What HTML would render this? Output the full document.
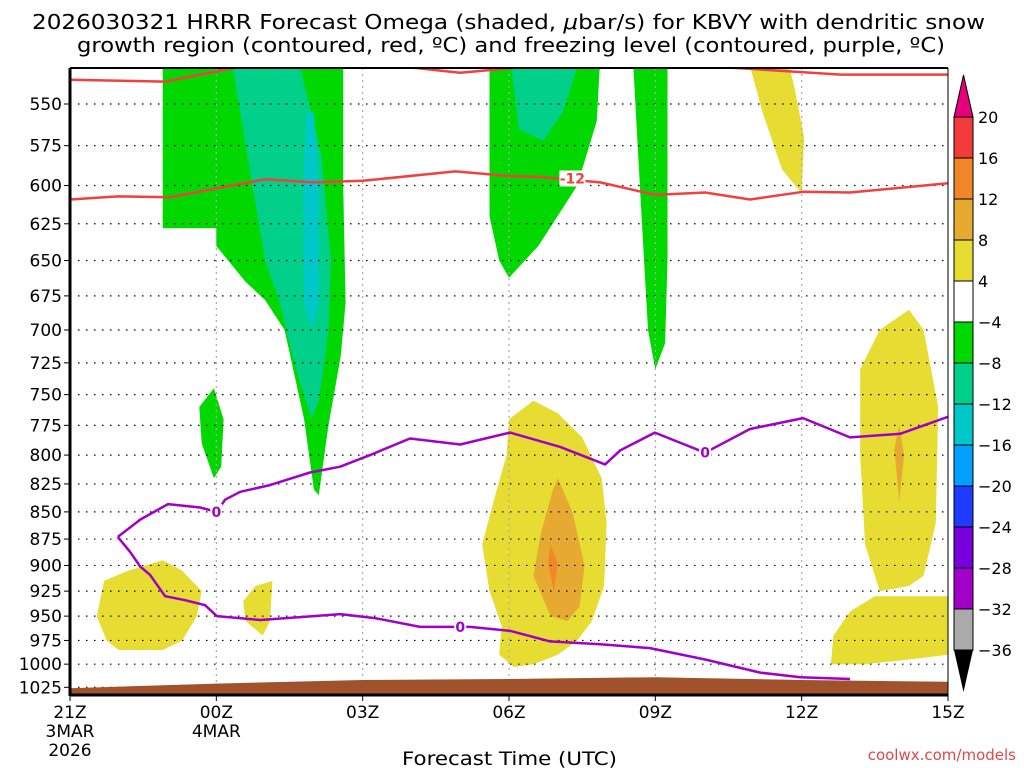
<!DOCTYPE html>
<html><head><meta charset="utf-8"><style>
body{margin:0;background:#fff;}
svg{display:block;font-family:"DejaVu Sans","Liberation Sans",sans-serif;}
</style></head><body>
<svg id="c" width="1024" height="768" viewBox="0 0 1024 768" xmlns="http://www.w3.org/2000/svg">
<text x="32" y="29" textLength="953" lengthAdjust="spacingAndGlyphs" font-size="20">2026030321 HRRR Forecast Omega (shaded, <tspan font-style="italic">μ</tspan>bar/s) for KBVY with dendritic snow</text>
<text x="77" y="52" textLength="868" lengthAdjust="spacingAndGlyphs" font-size="20">growth region (contoured, red, ºC) and freezing level (contoured, purple, ºC)</text>
<g id="plot"></g>
<text x="402" y="765" textLength="215" lengthAdjust="spacingAndGlyphs" font-size="19">Forecast Time (UTC)</text>
<text x="1016" y="760" text-anchor="end" font-size="15" fill="#e04848">coolwx.com/models</text>
</svg>
<script>
const pTicks=[550,575,600,625,650,675,700,725,750,775,800,825,850,875,900,925,950,975,1000,1025];
const xTickHours=[0,3,6,9,12,15,18];
const xTickLabels=[["21Z","3MAR","2026"],["00Z","4MAR"],["03Z"],["06Z"],["09Z"],["12Z"],["15Z"]];
const cbLevels=[20,16,12,8,4,-4,-8,-12,-16,-20,-24,-28,-32,-36];
const cbColors=["#f23c3c","#f0882a","#e6aa32","#e6dc32","#ffffff","#00d800","#00d08a","#00c8c8","#00a0ff","#1e3cff","#7800dc","#a000c8","#aaaaaa"];
const green1=[[1.9,529],[1.9,628],[3,628],[3,640],[3.6,665],[4,678],[4.4,700],[4.8,770],[5.0,830],[5.1,835],[5.3,775],[5.55,720],[5.65,680],[5.6,600],[5.6,529]];
const teal1=[[3.34,529],[3.6,575],[4.0,650],[4.3,680],[4.6,725],[4.95,770],[5.1,755],[5.3,700],[5.35,650],[5.15,580],[4.72,529]];
const cyan1=[[4.85,555],[4.78,600],[4.8,680],[4.95,700],[5.1,680],[5.1,600],[5.0,555]];
const green2=[[2.65,760],[2.95,745],[3.15,770],[3.1,810],[2.95,820],[2.7,790]];
const green3=[[8.6,529],[8.6,620],[8.8,650],[9.0,662],[9.6,640],[10.4,600],[10.8,560],[10.86,529]];
const teal3=[[9.05,529],[9.2,565],[9.7,572],[10.1,555],[10.4,529]];
const green4=[[11.55,529],[11.7,610],[11.85,700],[12.0,730],[12.2,710],[12.25,650],[12.25,529]];
const yellow1=[[13.95,529],[14.2,555],[14.6,590],[15.0,605],[15.05,570],[14.85,540],[14.75,529]];
const yellow2=[[0.55,950],[0.7,915],[1.2,905],[1.9,895],[2.3,905],[2.7,925],[2.6,950],[2.3,975],[1.9,985],[1.0,985],[0.75,975]];
const yellow3=[[3.55,935],[3.8,920],[4.15,915],[4.1,955],[3.95,970],[3.6,955]];
const yellow4=[[9.0,770],[9.5,755],[10.0,765],[10.5,785],[10.9,820],[11.0,860],[10.95,920],[10.7,955],[10.4,975],[10.0,990],[9.5,1000],[9.1,1003],[8.8,990],[8.85,960],[8.6,925],[8.45,880],[8.75,830],[8.95,800]];
const orange4=[[10.0,820],[10.3,850],[10.55,900],[10.45,940],[10.2,955],[9.85,950],[9.5,910],[9.65,870],[9.9,830]];
const red4=[[9.85,880],[10.0,898],[9.92,925],[9.8,898]];
const yellow5=[[16.2,730],[16.6,700],[17.2,685],[17.5,700],[17.8,760],[17.75,860],[17.5,910],[17.2,920],[16.6,925],[16.3,880],[16.2,800]];
const orange5=[[16.9,795],[17.0,775],[17.1,800],[17.0,840]];
const yellow6=[[15.6,1000],[15.65,970],[16.0,945],[16.5,930],[17.5,930],[18,930],[18,990],[17.2,995],[16.3,1000]];
const dgzTop=[[0,536],[1.95,537],[3.4,529],[7,529],[8,532],[9.2,529],[13.5,529],[15.8,533],[18,533]];
const dgzBottom=[[0,609],[0.98,607],[2.05,607.5],[4.0,596],[4.98,598],[6.0,597],[7.9,591],[9.02,594],[9.6,594.5],[10.87,598],[12.0,606],[13.02,604.5],[13.94,609],[15.03,604],[15.99,604.5],[18,598.6]];
const frzUpper=[[0.98,873],[1.44,857],[2.01,843],[2.67,846],[3.01,850],[3.18,839],[3.49,832],[4.1,826],[4.92,815],[5.54,810],[6.15,800],[6.97,786],[8.0,791],[9.02,781],[10.05,793],[10.97,808],[11.28,796],[11.99,781],[13.02,798],[13.94,778],[15.03,769],[15.99,785],[17.02,782],[18,768]];
const frzLower=[[0.98,873],[1.23,887],[1.44,901],[1.64,909],[1.95,930],[2.36,934],[2.77,939],[3.01,950],[3.9,954],[4.72,951],[5.54,948],[6.25,952],[7.18,961],[8.2,961],[9.02,965],[9.84,976],[10.87,979],[11.89,983],[13.02,995],[14.15,1009],[14.97,1014],[15.99,1016]];
const ground=[[0,1026],[3,1021],[6,1017],[9,1016],[12,1014],[15,1017],[18,1019]];

const X0=70,X1=948,Y0=68,Y1=695,HMAX=18;
const yRef=104,pRef=550,K=937;
function xs(h){return X0+h*(X1-X0)/HMAX;}
function ys(p){return yRef+K*Math.log(p/pRef);}
const NS="http://www.w3.org/2000/svg";
const g=document.getElementById('plot');
function mk(tag,attrs,parent){const e=document.createElementNS(NS,tag);for(const k in attrs)e.setAttribute(k,attrs[k]);(parent||g).appendChild(e);return e;}
function pts(a){return a.map(d=>xs(d[0]).toFixed(1)+","+ys(d[1]).toFixed(1)).join(" ");}
const defs=mk('defs',{});
const cp=mk('clipPath',{id:'clip'},defs);
mk('rect',{x:X0,y:Y0,width:X1-X0,height:Y1-Y0},cp);
const pg=mk('g',{'clip-path':'url(#clip)'});


const regions=[["green-region-1","#00d800",green1],["teal-region-1","#00d08a",teal1],["cyan-region-1","#00c8c8",cyan1],["green-region-2","#00d800",green2],["green-region-3","#00d800",green3],["teal-region-3","#00d08a",teal3],["green-region-4","#00d800",green4],["yellow-region-1","#e6dc32",yellow1],["yellow-region-2","#e6dc32",yellow2],["yellow-region-3","#e6dc32",yellow3],["yellow-region-4","#e6dc32",yellow4],["orange-region-4","#e6aa32",orange4],["red-orange-region-4","#f0882a",red4],["yellow-region-5","#e6dc32",yellow5],["orange-region-5","#e6aa32",orange5],["yellow-region-6","#e6dc32",yellow6]];
regions.forEach(r=>{
  const e=mk('polygon',{points:pts(r[2]),fill:r[1]},pg);
  
  
});
pTicks.forEach(p=>{
  const e=mk('line',{x1:X0,x2:X1,y1:ys(p),y2:ys(p),stroke:'#000','stroke-width':1.2,'stroke-dasharray':'1.5,6.5'},pg);
  
  
});
xTickHours.forEach(h=>{
  const e=mk('line',{x1:xs(h),x2:xs(h),y1:Y0,y2:Y1,stroke:'#aaa','stroke-width':1.2,'stroke-dasharray':'2,4'},pg);
  
  
});
const gpoly=ground.concat([[18,1040],[0,1040]]);
const ge=mk('polygon',{points:pts(gpoly),fill:'#a0522d'},pg);


function line(a,col,name){const e=mk('polyline',{points:pts(a),fill:'none',stroke:col,'stroke-width':2.5,'stroke-linejoin':'round'},pg);

}
line(dgzTop,'#f04040','dgz-top-contour');
line(dgzBottom,'#f04040','dgz-bottom-contour');
line(frzUpper,'#a000c8','freezing-level-upper');
line(frzLower,'#a000c8','freezing-level-lower');
function clabel(h,p,t,col,name,w){
  mk('rect',{x:xs(h)-w/2,y:ys(p)-8,width:w,height:16,fill:'#fff'},pg);
  const e=mk('text',{x:xs(h),y:ys(p)+5,'text-anchor':'middle','font-size':14,'font-weight':'bold',fill:col},pg);
  e.textContent=t;
  
  
}
clabel(10.3,595.5,'-12','#f04040','dgz-contour-label',26);
clabel(3.0,850,'0','#a000c8','freezing-label-1',12);
clabel(13.02,798,'0','#a000c8','freezing-label-2',12);
clabel(8.0,961,'0','#a000c8','freezing-label-3',12);
mk('line',{x1:X0,y1:Y0,x2:X1,y2:Y0,stroke:'#000','stroke-width':2});
mk('line',{x1:X1,y1:Y0,x2:X1,y2:Y1,stroke:'#000','stroke-width':1});
const ax1=mk('line',{x1:X0,y1:Y0,x2:X0,y2:Y1+1,stroke:'#000','stroke-width':3});


const ax2=mk('line',{x1:X0,y1:Y1,x2:X1,y2:Y1,stroke:'#000','stroke-width':3});


pTicks.forEach(p=>{
  const t=mk('text',{x:62,y:ys(p)+6,'text-anchor':'end','font-size':17});
  t.textContent=p;
  
  
  mk('line',{x1:X0-6,x2:X0,y1:ys(p),y2:ys(p),stroke:'#000','stroke-width':1});
});
xTickHours.forEach((h,i)=>{
  xTickLabels[i].forEach((s,j)=>{
    const t=mk('text',{x:xs(h),y:718+j*19,'text-anchor':'middle','font-size':17});
    t.textContent=s;
    
    
  });
  mk('line',{x1:xs(h),x2:xs(h),y1:Y1,y2:Y1+6,stroke:'#000','stroke-width':1});
});
const CX=954,CW=19,CT=117,CH=41;
const cb=mk('g',{});


mk('polygon',{points:`${CX},${CT} ${CX+CW},${CT} ${CX+CW/2},${CT-42}`,fill:'#e6007e',stroke:'#000','stroke-width':1},cb);
cbColors.forEach((c,i)=>{
  const r=mk('rect',{x:CX,y:CT+i*CH,width:CW,height:CH,fill:c,stroke:'#000','stroke-width':1},cb);
  
  
});
const cbBot=CT+cbColors.length*CH;
mk('polygon',{points:`${CX},${cbBot} ${CX+CW},${cbBot} ${CX+CW/2},${cbBot+42}`,fill:'#000'},cb);
cbLevels.forEach((v,i)=>{
  const t=mk('text',{x:978,y:CT+i*CH+6,'font-size':16},cb);
  t.textContent=v<0?'\u2212'+(-v):String(v);
  
  
});
</script>
</body></html>
